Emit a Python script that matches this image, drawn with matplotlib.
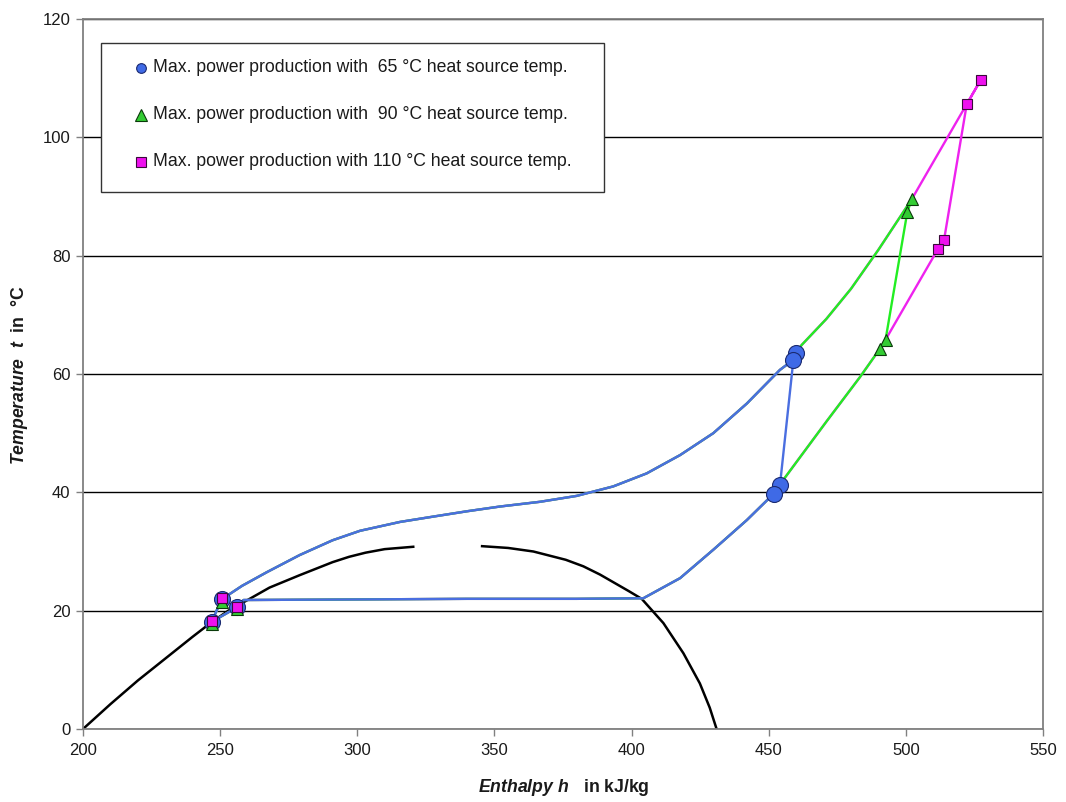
import matplotlib.pyplot as plt
from matplotlib.patches import Rectangle

plt.rcParams['font.family'] = ['Liberation Sans', 'DejaVu Sans']
plt.rcParams['mathtext.fontset'] = 'custom'
plt.rcParams['mathtext.it'] = 'Liberation Sans:italic:bold'
plt.rcParams['mathtext.rm'] = 'Liberation Sans:bold'
plt.rcParams['lines.solid_joinstyle'] = 'round'

# saturation dome (black)
liq_h = [200, 210, 220, 230, 240, 247, 253, 260, 268, 279, 291, 297, 303, 310, 320.4]
liq_t = [0, 4.2, 8.2, 11.9, 15.6, 18.1, 20.0, 21.8, 23.9, 26.0, 28.2, 29.1, 29.8, 30.4, 30.8]
vap_h = [345.5, 355, 364.2, 376, 382.4, 388.5, 394.5, 399, 403.7, 411.6, 418.9, 424.9, 428.5, 431]
vap_t = [30.9, 30.6, 30.0, 28.6, 27.5, 26.1, 24.5, 23.3, 22.0, 17.9, 12.8, 7.7, 3.6, 0]

# common part of all cycles: pump, heating up to 65 degC, cooling + condensing
pump_h = [246.9, 250.5]
pump_t = [18.1, 21.9]
heat_h = [258, 267, 279, 291, 301, 315.6, 327.7, 340, 352, 366.6, 380, 393.3,
          405.5, 417.7, 429.8, 442, 454.1, 459.0]
heat_t = [24.2, 26.5, 29.4, 31.9, 33.5, 35.0, 35.9, 36.8, 37.6, 38.4, 39.4, 41.0,
          43.2, 46.3, 50.0, 55.0, 60.7, 62.4]
cool_h = [451.9, 442, 429.8, 417.7, 404.3, 380, 340, 300, 258.5, 256.3, 246.9]
cool_t = [39.8, 35.3, 30.3, 25.5, 22.1, 22.0, 22.0, 21.9, 21.8, 20.6, 18.1]

# 65 degC cycle: expansion
exp65_h = [454.1]
exp65_t = [41.2]

# 90 degC cycle
heat90_h = [459.8, 462, 471, 480, 490, 502.1]
heat90_t = [63.6, 64.9, 69.3, 74.4, 81.0, 89.5]
exp90_h = [500.5, 492.6, 490.6]
exp90_t = [87.3, 65.8, 64.3]
cool90_h = [483.3, 471.1, 455.3, 454.1]
cool90_t = [59.5, 52.0, 42.1, 41.2]

# 110 degC cycle
heat110_h = [527.3]
heat110_t = [109.7]
exp110_h = [522.2, 513.9, 511.8]
exp110_t = [105.6, 82.6, 81.2]

# state points
m65_h = [246.9, 250.5, 256.3, 459.8, 459.0, 454.1, 451.9]
m65_t = [18.1, 21.9, 20.6, 63.6, 62.4, 41.2, 39.8]
m90_h = [246.9, 250.5, 256.3, 502.1, 500.5, 492.6, 490.6]
m90_t = [17.8, 21.5, 20.3, 89.5, 87.3, 65.8, 64.3]
m110_h = [246.9, 250.5, 256.3, 527.3, 522.2, 513.9, 511.8]
m110_t = [18.2, 22.1, 20.7, 109.7, 105.6, 82.6, 81.2]

labels = ["Max. power production with  65 °C heat source temp.",
          "Max. power production with  90 °C heat source temp.",
          "Max. power production with 110 °C heat source temp."]

blue = '#4a6ee0'
green = '#22ee22'
magenta = '#ee22ee'

# assemble cycle paths
path65_h = pump_h + heat_h + exp65_h + cool_h
path65_t = pump_t + heat_t + exp65_t + cool_t
path90_h = pump_h + heat_h + heat90_h + exp90_h + cool90_h + cool_h
path90_t = pump_t + heat_t + heat90_t + exp90_t + cool90_t + cool_t
path110_h = pump_h + heat_h + heat90_h + heat110_h + exp110_h + exp90_h[1:] + cool90_h + cool_h
path110_t = pump_t + heat_t + heat90_t + heat110_t + exp110_t + exp90_t[1:] + cool90_t + cool_t

fig = plt.figure(figsize=(10.66, 8.02), dpi=100)
ax = fig.add_axes([83 / 1066, 1 - 729 / 802, 960 / 1066, 710 / 802])

ax.plot(liq_h, liq_t, color='black', lw=1.8, zorder=2)
ax.plot(vap_h, vap_t, color='black', lw=1.8, zorder=2)

ax.plot(path110_h, path110_t, color=magenta, lw=1.7, zorder=3)
ax.plot(path90_h, path90_t, color=green, lw=1.7, zorder=4)
ax.plot(path65_h, path65_t, color=blue, lw=1.7, zorder=5)

ax.plot(m65_h, m65_t, 'o', ms=11.5, mfc='#3f6ae6', mec='#1a2a70', mew=0.8, zorder=6)
ax.plot(m90_h, m90_t, '^', ms=9, mfc='#33cc33', mec='#0a3a0a', mew=0.8, zorder=7)
ax.plot(m110_h, m110_t, 's', ms=7, mfc='#ee11ee', mec='#3a0a3a', mew=0.8, zorder=8)

ax.set_xlim(200, 550)
ax.set_ylim(0, 120)
ax.set_xticks(range(200, 551, 50))
ax.set_yticks(range(0, 121, 20))
ax.yaxis.grid(True, color='black', lw=1.0)
ax.set_axisbelow(True)
for s in ax.spines.values():
    s.set_color('#808080')
    s.set_linewidth(1.3)
ax.tick_params(axis='both', direction='out', length=5, width=1, color='#808080',
               labelsize=12, labelcolor='#1a1a1a')
ax.tick_params(axis='y', pad=4)
ax.tick_params(axis='x', pad=5)

# legend box
ax.add_patch(Rectangle((0.01875, 0.7563), 0.524, 0.2099, transform=ax.transAxes,
                       fc='white', ec='#333333', lw=1.0, zorder=9))
leg_y = [0.931, 0.8648, 0.7986]
leg_style = [('o', 7, '#3f6ae6', '#1a2a70'), ('^', 8, '#33cc33', '#0a3a0a'),
             ('s', 6.5, '#ee11ee', '#3a0a3a')]
for y, lab, (mk, ms, fc, ec) in zip(leg_y, labels, leg_style):
    ax.plot([0.0604], [y], mk, ms=ms, mfc=fc, mec=ec, mew=0.8,
            transform=ax.transAxes, zorder=10, clip_on=False)
    ax.text(0.0729, y, lab, transform=ax.transAxes, ha='left', va='center',
            fontsize=12.7, color='#1a1a1a', zorder=10)

fig.text(563.5 / 1066, 1 - 788 / 802, r'$\mathit{Enthalpy\ h}$   in kJ/kg',
         ha='center', va='center', fontsize=12.7, fontweight='bold', color='#1a1a1a')
fig.text(20 / 1066, 1 - 375 / 802, r'$\mathit{Temperature\ \ t}$  in  °C',
         ha='center', va='center', rotation=90, fontsize=12.7, fontweight='bold',
         color='#1a1a1a')

fig.savefig('out.png', dpi=100)
